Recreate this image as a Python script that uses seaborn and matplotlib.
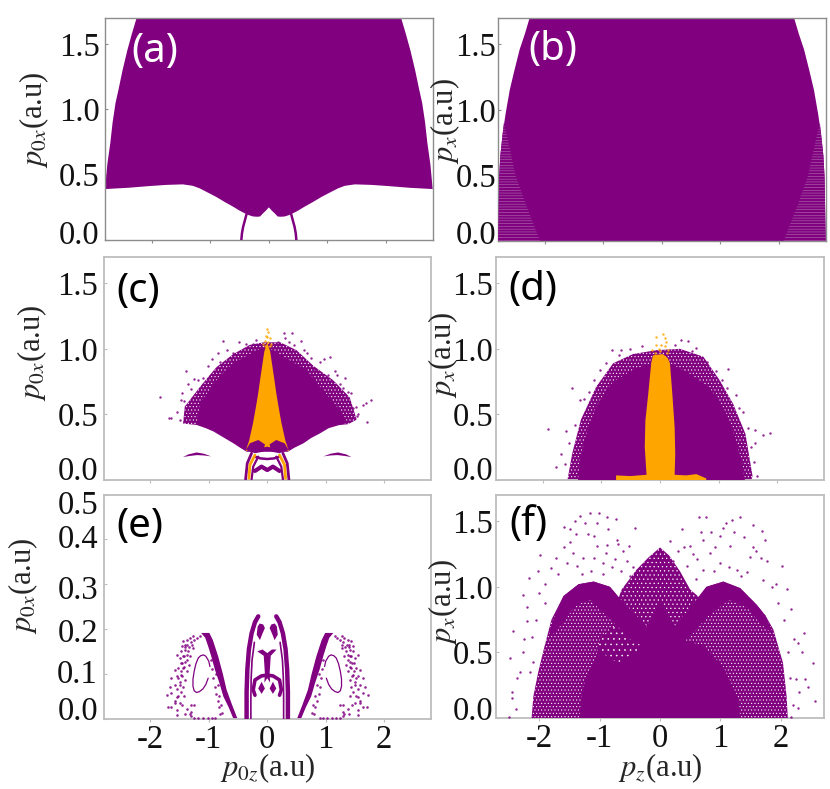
import numpy as np
import matplotlib
matplotlib.use("Agg")
import matplotlib.pyplot as plt
import matplotlib.transforms as mtrans
import seaborn as sns

sns.set_style("white")
plt.rcParams['font.family'] = ['Liberation Serif', 'DejaVu Serif']
plt.rcParams['mathtext.fontset'] = 'stix'
plt.rcParams['hatch.linewidth'] = 0.4

PURPLE = '#800080'
ORANGE = '#ffa500'

# ---- panel (a)
a_top_x = [-2.26, -2.34, -2.42, -2.50, -2.57, -2.62, -2.67, -2.71, -2.76, -2.80]
a_top_y = [1.70, 1.58, 1.45, 1.30, 1.15, 1.05, 0.90, 0.74, 0.58, 0.39]
a_low_x = [-2.80, -2.40, -2.04, -1.75, -1.47, -1.30, -1.18, -1.05, -0.90, -0.75, -0.61, -0.50, -0.41, -0.34, -0.27, -0.20, -0.15, -0.10, -0.05, 0.0]
a_low_y = [0.39, 0.40, 0.413, 0.422, 0.426, 0.415, 0.395, 0.365, 0.33, 0.29, 0.255, 0.225, 0.204, 0.19, 0.18, 0.178, 0.18, 0.204, 0.225, 0.25]
a_arc_x = [-0.38, -0.41, -0.44, -0.46, -0.47]
a_arc_y = [0.20, 0.15, 0.10, 0.05, 0.0]

# ---- panel (b)
b_edge_x = [-2.26, -2.34, -2.43, -2.52, -2.60, -2.67, -2.72, -2.76, -2.78, -2.80]
b_edge_y = [1.70, 1.58, 1.46, 1.30, 1.15, 0.97, 0.82, 0.65, 0.49, 0.0]
b_stripe_x = [-2.70, -2.76, -2.78, -2.80, -2.08, -2.30, -2.50, -2.62]
b_stripe_y = [0.90, 0.65, 0.49, 0.0, 0.0, 0.25, 0.50, 0.75]

# ---- panel (c)
c_solid_x = [-1.21, -1.15, -1.00, -0.87, -0.72, -0.58, -0.30, -0.07, 0.10, 0.39, 0.67, 0.96, 1.10, 1.24, 1.38,
             1.24, 1.05, 0.90, 0.75, 0.62, 0.46, 0.35, -0.35, -0.46, -0.58, -0.75, -0.92, -1.05]
c_solid_y = [0.42, 0.58, 0.68, 0.76, 0.83, 0.89, 0.96, 1.01, 0.99, 0.91, 0.84, 0.68, 0.61, 0.53, 0.435,
             0.42, 0.395, 0.355, 0.32, 0.28, 0.245, 0.215, 0.215, 0.245, 0.28, 0.325, 0.37, 0.395]
c_fuzz_x = [-1.44, -1.41, -1.15, -0.87, -0.58, -0.30, -0.05, 0.22, 0.50, 0.79, 1.13, 1.41, 1.53, 1.38, 1.24, -1.21]
c_fuzz_y = [0.43, 0.56, 0.71, 0.86, 0.96, 1.03, 1.05, 1.05, 0.99, 0.87, 0.76, 0.63, 0.46, 0.425, 0.42, 0.42]
c_orange_x = [0.0, -0.05, -0.08, -0.12, -0.155, -0.20, -0.245, -0.31, -0.37, 0.0, 0.37, 0.31, 0.245, 0.20, 0.155, 0.12, 0.08, 0.05]
c_orange_y = [1.05, 0.98, 0.89, 0.77, 0.66, 0.54, 0.43, 0.30, 0.22, 0.254, 0.22, 0.30, 0.43, 0.54, 0.66, 0.77, 0.89, 0.98]
c_blob_x = [-0.365, -0.296, -0.154, -0.04, -0.068, -0.21]
c_blob_y = [0.229, 0.28, 0.305, 0.272, 0.216, 0.204]
c_banana_x = [-1.44, -1.35, -1.21, -1.08, -0.96, -1.08, -1.20, -1.33]
c_banana_y = [0.175, 0.195, 0.21, 0.20, 0.18, 0.187, 0.19, 0.183]
c_arc_out_x = [-0.268, -0.342, -0.37]
c_arc_out_y = [0.204, 0.127, 0.005]
c_arc_or_x = [-0.21, -0.296, -0.313]
c_arc_or_y = [0.19, 0.115, 0.013]
c_arc_in_x = [-0.154, -0.24, -0.268]
c_arc_in_y = [0.178, 0.102, 0.005]
c_bar_x = [-0.21, -0.12, 0.0, 0.12, 0.21]
c_bar_y = [0.178, 0.165, 0.16, 0.165, 0.178]
c_mous_x = [-0.21, -0.097, 0.0, 0.097, 0.21]
c_mous_y = [0.069, 0.102, 0.076, 0.102, 0.069]
c_dots_x = [-1.83, -1.68, -1.65, -1.55, -1.48, -1.39, -1.35, -1.18, -1.02, -0.85, -0.75, -0.59, -0.37, -0.24,
            0.19, 0.28, 0.43, 0.37, 0.57, 0.68, 1.07, 0.97, 0.81, 1.19, 1.04, 1.33, 1.38, 1.30, 1.51, 1.78, 1.68, 1.63, 1.71, 1.53,
            -1.50, -1.45, -1.42, -1.30, -1.25, -1.10, -0.95, -0.80, -0.68, -0.48, -0.20, 0.30, 0.46, 0.62, 0.75, 0.90, 1.15, 1.25, 1.43, 1.46, 1.56]
c_dots_y = [0.63, 0.47, 0.47, 0.52, 0.61, 0.83, 0.73, 0.76, 0.87, 0.97, 1.06, 0.97, 1.04, 1.04,
            1.05, 1.12, 1.12, 1.05, 1.06, 0.97, 0.94, 0.92, 0.85, 0.80, 0.80, 0.78, 0.67, 0.70, 0.56, 0.61, 0.59, 0.57, 0.44, 0.49,
            0.46, 0.66, 0.60, 0.69, 0.77, 0.78, 0.92, 0.90, 0.99, 1.05, 1.07, 1.08, 1.03, 0.99, 0.93, 0.90, 0.83, 0.73, 0.66, 0.55, 0.50]
c_tip_x = [0.0, 0.02, -0.02, 0.05, -0.04, 0.02, -0.07, 0.07, 0.0, -0.03, 0.04]
c_tip_y = [1.15, 1.13, 1.10, 1.08, 1.06, 1.05, 1.04, 1.04, 1.09, 1.02, 1.02]

# ---- panel (d)
d_solid_x = [-1.40, -1.37, -1.26, -1.09, -0.95, -0.80, -0.46, -0.15, 0.17, 0.51, 0.85, 1.00, 1.13, 1.28, 1.39, 1.45]
d_solid_y = [0.0, 0.15, 0.35, 0.56, 0.66, 0.75, 0.84, 0.89, 0.89, 0.81, 0.70, 0.61, 0.51, 0.33, 0.15, 0.0]
d_fuzz_x = [-1.58, -1.50, -1.35, -1.09, -0.80, -0.46, -0.06, 0.34, 0.74, 1.02, 1.25, 1.46, 1.58, 1.56]
d_fuzz_y = [0.0, 0.20, 0.46, 0.71, 0.89, 0.96, 0.99, 1.0, 0.94, 0.76, 0.58, 0.35, 0.03, 0.0]
d_orange_x = [-0.12, -0.05, 0.05, 0.13, 0.17, 0.21, 0.25, 0.26, 0.25, 0.45, 0.62, 0.79, 0.79, -0.75, -0.75, -0.50, -0.23, -0.26, -0.25, -0.20, -0.15]
d_orange_y = [0.95, 0.955, 0.96, 0.93, 0.89, 0.66, 0.40, 0.20, 0.04, 0.035, 0.045, 0.012, 0.0, 0.0, 0.035, 0.03, 0.04, 0.25, 0.45, 0.66, 0.89]
d_tip_x = [0.05, -0.06, 0.09, -0.07, 0.02, 0.11, -0.13, -0.02, 0.14, 0.08, -0.09, 0.0, 0.12]
d_tip_y = [1.11, 1.09, 1.08, 1.03, 1.03, 1.05, 0.99, 1.0, 0.99, 1.02, 0.97, 0.98, 0.97]
d_dots_x = [-1.91, -1.78, -1.69, -1.60, -1.50, -1.37, -1.29, -1.12, -0.93, -0.82, -0.66,
            0.36, 0.48, 0.62, 1.16, 1.05, 1.30, 1.42, 1.62, 1.87, 1.76, 1.63, 1.65,
            -1.62, -1.55, -1.45, -1.22, -1.02, -0.70, -0.52, -0.30, 0.25, 0.55, 0.80, 0.95, 1.15, 1.35, 1.50, 1.55, 1.60]
d_dots_y = [0.385, 0.10, 0.20, 0.37, 0.70, 0.61, 0.62, 0.76, 0.89, 0.99, 0.99,
            1.07, 1.06, 1.01, 0.85, 0.76, 0.65, 0.52, 0.38, 0.36, 0.34, 0.28, 0.03,
            0.12, 0.28, 0.42, 0.67, 0.84, 0.95, 1.0, 1.02, 1.03, 0.98, 0.90, 0.83, 0.70, 0.55, 0.40, 0.25, 0.14]

# ---- panel (e)
e_band_x = [-1.13, -0.99, -0.93, -0.84, -0.76, -0.695, -0.60, -0.51, -0.58, -0.66, -0.75, -0.82, -0.895, -0.96, -1.01, -1.06]
e_band_y = [0.191, 0.191, 0.175, 0.139, 0.10, 0.064, 0.03, 0.0, 0.0, 0.025, 0.049, 0.08, 0.109, 0.14, 0.161, 0.18]
e_line1_x = [-0.154, -0.21, -0.268, -0.313, -0.34, -0.353, -0.353]
e_line1_y = [0.228, 0.215, 0.19, 0.155, 0.11, 0.06, 0.0]
e_line2_x = [-0.22, -0.26, -0.275, -0.28, -0.28]
e_line2_y = [0.17, 0.13, 0.09, 0.05, 0.0]
e_drop_x = [-0.07, -0.04, -0.08, -0.125, -0.18, -0.165, -0.13]
e_drop_y = [0.21, 0.202, 0.19, 0.175, 0.187, 0.205, 0.212]
e_stem_x = [-0.171, -0.08, 0.0, 0.08, 0.16, 0.06, 0.05, 0.04, 0.05, 0.0, -0.05, -0.04, -0.05, -0.06]
e_stem_y = [0.15, 0.154, 0.146, 0.154, 0.154, 0.14, 0.12, 0.10, 0.08, 0.09, 0.08, 0.10, 0.12, 0.14]
e_leg_x = [0.0, -0.10, -0.21, -0.24, -0.21]
e_leg_y = [0.097, 0.095, 0.086, 0.064, 0.052]
e_foot_x = [-0.097, -0.04, -0.097, -0.154]
e_foot_y = [0.082, 0.067, 0.055, 0.067]
e_loop_x = [-0.98, -1.0, -1.05, -1.09, -1.14, -1.18, -1.22, -1.25, -1.27, -1.27, -1.25, -1.21, -1.16, -1.10, -1.05, -1.01]
e_loop_y = [0.116, 0.128, 0.139, 0.142, 0.14, 0.135, 0.122, 0.105, 0.088, 0.072, 0.062, 0.058, 0.06, 0.066, 0.076, 0.09]
e_dots_x = [-1.15, -1.20, -1.25, -1.30, -1.28, -1.33, -1.27, -1.37, -1.40, -1.35, -1.42, -1.32, -1.38, -1.45, -1.34,
            -1.42, -1.48, -1.38, -1.45, -1.52, -1.41, -1.50, -1.44, -1.55, -1.47, -1.52, -1.42, -1.58, -1.50, -1.64,
            -1.45, -1.55, -1.25, -1.30, -1.32,
            -0.96, -0.94, -0.92, -0.90, -0.88, -0.85, -0.82, -0.80, -0.88, -0.85, -0.82, -0.79, -0.77,
            -1.25, -1.18, -1.10, -1.02, -0.95, -0.90,
            -1.27, -1.32, -1.38, -1.44, -1.40, -1.46, -1.41, -1.47, -1.38, -1.44, -1.50, -1.41, -1.48, -1.55, -1.44, -1.52, -1.58,
            -1.47, -1.55, -1.64, -1.50, -1.58, -1.67, -1.64, -1.72, -1.55, -1.58, -1.70, -1.55, -1.30, -1.30, -1.38, -1.40]
e_dots_y = [0.185, 0.18, 0.175, 0.17, 0.165, 0.16, 0.158, 0.165, 0.16, 0.15, 0.14, 0.14, 0.13, 0.125, 0.12,
            0.115, 0.105, 0.105, 0.095, 0.09, 0.085, 0.075, 0.07, 0.065, 0.06, 0.05, 0.05, 0.04, 0.035, 0.025,
            0.03, 0.02, 0.03, 0.005, 0.01,
            0.13, 0.11, 0.09, 0.07, 0.055, 0.04, 0.025, 0.01, 0.10, 0.075, 0.05, 0.03, 0.012,
            0.002, 0.002, 0.002, 0.002, 0.002, 0.002,
            0.184, 0.18, 0.176, 0.172, 0.165, 0.161, 0.154, 0.15, 0.142, 0.139, 0.135, 0.127, 0.124, 0.142, 0.112, 0.112, 0.109,
            0.097, 0.094, 0.09, 0.082, 0.075, 0.071, 0.056, 0.052, 0.049, 0.034, 0.026, 0.007, 0.03, 0.015, 0.022, 0.011]

# ---- panel (f)
f_base_x = [-2.13, -2.10, -2.02, -1.93, -1.80, -1.60, -1.35, -1.10, -0.83, -0.61, -0.39, -0.22, 0.0, 0.25, 0.50, 0.77,
            1.05, 1.33, 1.60, 1.75, 1.88, 2.04, 2.10, 2.12]
f_base_y = [0.0, 0.165, 0.35, 0.52, 0.75, 0.93, 1.02, 1.04, 1.0, 0.88, 0.78, 0.70, 0.88, 0.70, 0.84, 1.0,
            1.04, 0.99, 0.865, 0.78, 0.675, 0.42, 0.165, 0.0]
f_left_arch_x = [-1.85, -1.78, -1.60, -1.35, -1.10, -0.83, -0.61, -0.39, -0.22, -0.30, -0.50, -0.84, -1.16, -1.40, -1.62]
f_left_arch_y = [0.60, 0.74, 0.93, 1.02, 1.04, 1.0, 0.88, 0.78, 0.70, 0.55, 0.60, 0.76, 0.90, 0.86, 0.72]
f_right_arch_x = [0.25, 0.50, 0.77, 1.05, 1.33, 1.60, 1.75, 1.88, 1.66, 1.45, 1.15, 0.80, 0.50, 0.30]
f_right_arch_y = [0.70, 0.84, 1.0, 1.04, 0.99, 0.865, 0.78, 0.64, 0.72, 0.84, 0.90, 0.78, 0.62, 0.55]
f_core_x = [-1.33, -1.30, -1.20, -1.08, -0.98, -0.70, -0.35, -0.22, 0.0, 0.25, 0.35, 0.72, 1.05, 1.30, 1.33]
f_core_y = [0.0, 0.20, 0.33, 0.43, 0.50, 0.42, 0.52, 0.70, 0.88, 0.70, 0.60, 0.55, 0.39, 0.15, 0.0]
f_mid_x = [-1.08, -0.98, -0.60, -0.30, -0.22, -0.40, -0.75]
f_mid_y = [0.43, 0.62, 0.75, 0.70, 0.60, 0.40, 0.35]
f_sparse_x = [0.0, -0.20, -0.39, -0.635, -0.70, -0.40, 0.0, 0.40, 0.70, 0.50, 0.33, 0.15]
f_sparse_y = [1.30, 1.22, 1.13, 0.98, 0.90, 0.70, 0.60, 0.70, 0.90, 0.98, 1.12, 1.24]
f_dots_x = [-1.16, -1.02, -1.33, -0.88, -0.73, -1.41, -1.24, -1.05, -1.60, -0.86, -0.41, -1.09, -0.72, -0.88, -1.49,
            -1.60, -1.05, -1.27, -0.61, -0.52, -1.80, -2.02, -2.17, -2.27, -1.99, -1.55, -1.38, -0.94, -0.75, -2.21,
            -2.43, -2.28, -2.48, -2.38, -2.46, -2.46, -2.39, -2.51, -2.13, -1.91, -2.10,
            0.64, 0.77, 1.19, 1.33, 1.10, 1.55, 1.74, 1.685, 0.36, 0.72, 0.99, 1.16, 0.50, 0.17, 1.60, 1.77, 1.49, 2.02,
            1.93, 2.10, 2.18, 2.38, 2.29, 2.35, 2.53, 2.15, 2.46, 2.57, 2.29, 2.18, 0.83, 1.27, 0.99, 0.61, 0.44, 1.44, 0.72, 0.22,
            -1.72, -1.45, -1.30, -1.15, -0.95, -0.80, -0.65, -0.55, -0.45, -1.20, -1.40, -1.70, -1.90, -2.00, -2.20, -0.70, -0.50,
            -1.10, -0.90, -1.50, -2.25, -2.15, -2.05, -2.32,
            0.40, 0.55, 0.68, 0.85, 0.92, 1.05, 1.22, 1.40, 1.55, 1.68, 0.30, 0.60, 0.90, 1.15, 1.35, 1.70, 1.85, 1.95, 2.05, 2.22,
            2.12, 2.25, 2.30, 2.20, 2.40]
f_dots_y = [1.56, 1.56, 1.54, 1.53, 1.52, 1.50, 1.49, 1.49, 1.455, 1.44, 1.45, 1.39, 1.36, 1.32, 1.34,
            1.30, 1.31, 1.22, 1.27, 1.31, 1.145, 1.12, 1.07, 0.94, 1.24, 1.18, 1.16, 1.18, 1.21, 0.74,
            0.66, 0.50, 0.46, 0.305, 0.20, 0.15, 0.07, 0.005, 0.62, 0.88, 0.43,
            1.53, 1.53, 1.51, 1.53, 1.49, 1.475, 1.36, 1.425, 1.44, 1.36, 1.39, 1.31, 1.31, 1.35, 1.27, 1.195, 1.23, 1.16,
            1.02, 0.98, 0.83, 0.65, 0.57, 0.50, 0.42, 0.305, 0.24, 0.13, 0.08, 0.01, 1.26, 1.13, 1.18, 1.21, 1.16, 1.11, 1.13, 1.20,
            1.22, 1.26, 1.10, 1.12, 1.10, 1.15, 1.12, 1.20, 1.15, 1.40, 1.40, 1.10, 1.02, 0.95, 0.85, 1.33, 1.08,
            1.22, 1.26, 1.44, 0.60, 0.35, 0.75, 0.35,
            1.30, 1.25, 1.42, 1.42, 1.30, 1.45, 1.42, 1.38, 1.30, 1.22, 1.27, 1.06, 1.12, 1.15, 1.08, 1.05, 1.0, 0.88, 0.75, 0.60,
            0.50, 0.30, 0.20, 0.10, 0.30]

xticks = [-2, -1, 0, 1, 2]
xtick_labels = ['-2', '-1', '0', '1', '2']
yticks = [0.0, 0.5, 1.0, 1.5]
yticks_e = [0.0, 0.1, 0.2, 0.3, 0.4, 0.5]

W, H = 830, 789
fig = plt.figure(figsize=(W / 100, H / 100), dpi=100, facecolor='white')


def new_axes(l, t, r, b, xl=2.8, ytop=1.7, yt=yticks, xlabels=False, spine='#bdbdbd', slw=1.3, pad=2.0, shifts=None):
    ax = fig.add_axes([l / W, 1 - b / H, (r - l) / W, (b - t) / H])
    ax.set_xlim(-xl, xl)
    ax.set_ylim(0, ytop)
    ax.set_xticks(xticks)
    ax.set_yticks(yt)
    ax.set_yticklabels(['%.1f' % v for v in yt])
    if xlabels:
        ax.set_xticklabels(xtick_labels)
    else:
        ax.set_xticklabels([])
    ax.tick_params(axis='both', labelsize=23.5, length=2, width=0.8, color=spine,
                   bottom=True, left=True, labelcolor='#111111')
    ax.tick_params(axis='y', direction='in', pad=pad)
    ax.tick_params(axis='x', direction='out', pad=2)
    for s in ax.spines.values():
        s.set_color(spine)
        s.set_linewidth(slw)
    shifts = shifts or [10]
    for lab, sh in zip(ax.get_yticklabels(), shifts):
        lab.set_transform(lab.get_transform() +
                          mtrans.ScaledTranslation(0, sh / 100, fig.dpi_scale_trans))
    return ax


def mirror(x, y):
    return list(x) + [-v for v in reversed(x)], list(y) + list(reversed(y))


def fill(ax, x, y, color=PURPLE, hatch=None, z=2, hatch_color='white'):
    if hatch:
        ax.fill(x, y, facecolor=color, edgecolor=hatch_color, hatch=hatch, lw=0, zorder=z)
    else:
        ax.fill(x, y, color=color, lw=0, zorder=z)


def line(ax, x, y, color=PURPLE, lw=2.0, z=3, ls='-'):
    sns.lineplot(x=x, y=y, ax=ax, color=color, lw=lw, sort=False, estimator=None,
                 legend=False, zorder=z, ls=ls)


def dots(ax, x, y, color=PURPLE, s=3.0, z=4, alpha=0.85):
    sns.scatterplot(x=x, y=y, ax=ax, color=color, s=s, linewidth=0, alpha=alpha,
                    legend=False, zorder=z)


def tag(ax, text, x, y, color):
    ax.text(x, y, text, transform=ax.transAxes, fontsize=29, color=color, family='Noto Sans',
            ha='left', va='center', zorder=10)


def neg(v):
    return [-q for q in v]


# (a)
ax = new_axes(105, 18, 432.7, 240, spine='#8c8c8c', slw=1.0, pad=4.0, shifts=[8])
lx = a_low_x + neg(a_low_x[:-1])[::-1]
ly = a_low_y + a_low_y[:-1][::-1]
fill(ax, a_top_x + lx[1:] + neg(a_top_x)[::-1], a_top_y + ly[1:] + a_top_y[::-1])
line(ax, a_arc_x, a_arc_y, lw=1.8)
line(ax, neg(a_arc_x), a_arc_y, lw=1.8)
tag(ax, '(a)', .082, .845, 'white')
ax.set_ylabel(r'$p_{0x}$(a.u)', fontsize=22)
ax.yaxis.set_label_coords(-0.165, 0.54)

# (b)
ax = new_axes(498, 18, 825.7, 241, spine='#8c8c8c', slw=1.0, pad=1.5, shifts=[9])
bx, by = mirror(b_edge_x, b_edge_y)
fill(ax, bx, by)
fill(ax, b_stripe_x, b_stripe_y, hatch='------', z=3, hatch_color='#b070b0')
fill(ax, neg(b_stripe_x), b_stripe_y, hatch='------', z=3, hatch_color='#b070b0')
tag(ax, '(b)', .092, .855, 'white')
ax.set_ylabel(r'$p_x$(a.u)', fontsize=22)
ax.yaxis.set_label_coords(-0.11, 0.54)
ax.set_yticks([0.25, 0.75, 1.25], minor=True)
ax.tick_params(axis='y', which='minor', length=2, color='#8c8c8c', direction='in')

# (c)
ax = new_axes(103.5, 257, 431, 480, pad=4.0, shifts=[12])
fill(ax, c_fuzz_x, c_fuzz_y, hatch='.....', z=2)
fill(ax, c_solid_x, c_solid_y, z=3)
fill(ax, c_orange_x, c_orange_y, color=ORANGE, z=4)
for sgn in (1, -1):
    sx = lambda v: [sgn * q for q in v]
    fill(ax, sx(c_blob_x), c_blob_y, z=5)
    line(ax, sx(c_arc_out_x), c_arc_out_y, lw=2.0, z=5)
    line(ax, sx(c_arc_or_x), c_arc_or_y, color=ORANGE, lw=2.0, z=6)
    line(ax, sx(c_arc_in_x), c_arc_in_y, lw=1.6, z=5)
    fill(ax, sx(c_banana_x), c_banana_y)
line(ax, c_bar_x, c_bar_y, lw=1.8, z=5)
line(ax, c_mous_x, c_mous_y, lw=3.0, z=5)
dots(ax, c_dots_x, c_dots_y)
dots(ax, c_tip_x, c_tip_y, color=ORANGE, z=6)
tag(ax, '(c)', .038, .843, 'black')
ax.set_ylabel(r'$p_{0x}$(a.u)', fontsize=22)
ax.yaxis.set_label_coords(-0.165, 0.57)

# (d)
ax = new_axes(496, 257, 824, 480, pad=2.0, shifts=[12])
fill(ax, d_fuzz_x, d_fuzz_y, hatch='.....', z=2)
fill(ax, d_solid_x, d_solid_y, z=3)
fill(ax, d_orange_x, d_orange_y, color=ORANGE, z=4)
dots(ax, d_dots_x, d_dots_y)
dots(ax, d_tip_x, d_tip_y, color=ORANGE, z=6)
tag(ax, '(d)', .038, .852, 'black')
ax.set_ylabel(r'$p_x$(a.u)', fontsize=22)
ax.yaxis.set_label_coords(-0.11, 0.56)

# (e)
ax = new_axes(103.5, 494.5, 431, 718.5, ytop=0.5, yt=yticks_e, xlabels=True, pad=4.0,
              shifts=[10, 2, -1, -3, 3, -8])
for sgn in (1, -1):
    sx = lambda v: [sgn * q for q in v]
    fill(ax, sx(e_band_x), e_band_y)
    line(ax, sx(e_line1_x), e_line1_y, lw=3.2)
    line(ax, sx(e_line2_x), e_line2_y, lw=1.2)
    fill(ax, sx(e_drop_x), e_drop_y)
    line(ax, sx(e_leg_x), e_leg_y, lw=2.6)
    fill(ax, sx(e_foot_x), e_foot_y)
    line(ax, sx(e_loop_x), e_loop_y, lw=0.9)
    dots(ax, sx(e_dots_x), e_dots_y, s=3.5)
fill(ax, e_stem_x, e_stem_y)
tag(ax, '(e)', .038, .853, 'black')
ax.set_ylabel(r'$p_{0x}$(a.u)', fontsize=22)
ax.yaxis.set_label_coords(-0.195, 0.594)
ax.set_xlabel(r'$p_{0z}$(a.u)', fontsize=22, labelpad=-2)

# (f)
ax = new_axes(496, 495, 824, 718, xl=2.72, xlabels=True, pad=2.0, shifts=[10])
fill(ax, f_sparse_x, f_sparse_y, hatch='....', z=2)
fill(ax, f_base_x, f_base_y, hatch='.....', z=3)
fill(ax, f_mid_x, f_mid_y, hatch='...', z=4)
fill(ax, f_left_arch_x, f_left_arch_y, z=5)
fill(ax, f_right_arch_x, f_right_arch_y, z=5)
fill(ax, f_core_x, f_core_y, z=6)
dots(ax, f_dots_x, f_dots_y)
tag(ax, '(f)', .040, .865, 'black')
ax.set_ylabel(r'$p_x$(a.u)', fontsize=22)
ax.yaxis.set_label_coords(-0.11, 0.52)
ax.set_xlabel(r'$p_z$(a.u)', fontsize=22, labelpad=-2)

fig.savefig('out.png', dpi=100)
